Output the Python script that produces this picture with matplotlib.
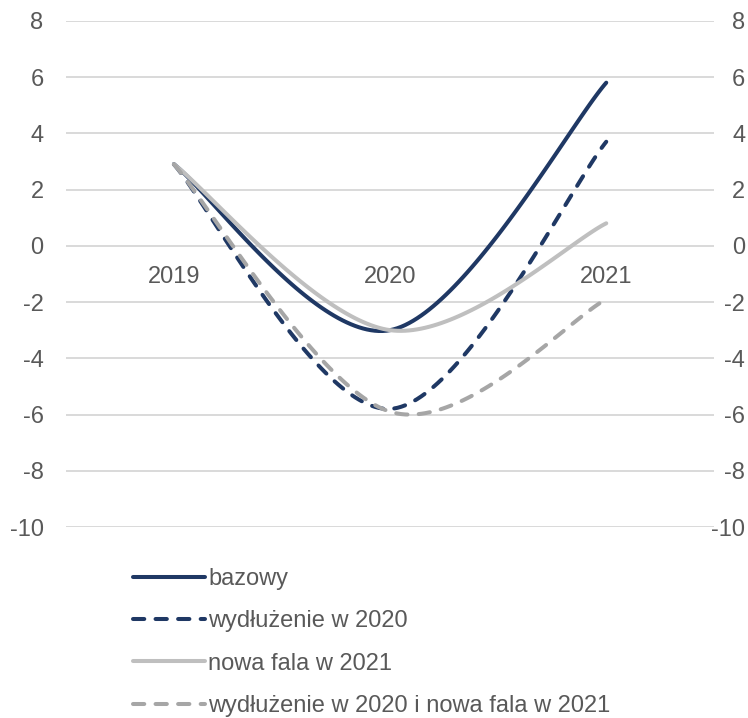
import numpy as np
import matplotlib
matplotlib.use("Agg")
import matplotlib.pyplot as plt

plt.rcParams['font.family'] = ['Liberation Sans', 'DejaVu Sans']

years = ["2019", "2020", "2021"]
bazowy = [2.9, -3.0, 5.8]
wydluzenie_2020 = [2.9, -5.8, 3.7]
nowa_fala_2021 = [2.9, -3.0, 0.8]
wydluzenie_i_nowa_fala = [2.9, -5.9, -1.9]

series_labels = ["bazowy", "wydłużenie w 2020", "nowa fala w 2021",
                 "wydłużenie w 2020 i nowa fala w 2021"]

y_ticks = list(range(-10, 9, 2))

NAVY = "#1f3864"
LIGHT = "#bfbfbf"
MID = "#a6a6a6"
TEXT = "#595959"
FS = 17


def smooth(xs, ys, n=60):
    """Cubic Bezier smoothing through the points (Catmull-Rom style)."""
    P = np.column_stack([np.asarray(xs, float), np.asarray(ys, float)])
    Pe = np.vstack([P[0], P, P[-1]])
    out = []
    t = np.linspace(0, 1, n)[:, None]
    for i in range(len(P) - 1):
        p0, p1, p2, p3 = Pe[i], Pe[i + 1], Pe[i + 2], Pe[i + 3]
        c1 = p1 + (p2 - p0) / 6.0
        c2 = p2 - (p3 - p1) / 6.0
        seg = ((1 - t) ** 3) * p1 + 3 * ((1 - t) ** 2) * t * c1 \
            + 3 * (1 - t) * t ** 2 * c2 + t ** 3 * p2
        out.append(seg if i == 0 else seg[1:])
    out = np.vstack(out)
    return out[:, 0], out[:, 1]


fig = plt.figure(figsize=(7.48, 7.18), dpi=100)
ax = fig.add_axes([0.088, 0.266, 0.867, 0.705])

x = np.arange(len(years))
dash = (0, (2.8, 2.8))
styles = [
    (bazowy, NAVY, "-"),
    (wydluzenie_2020, NAVY, dash),
    (nowa_fala_2021, LIGHT, "-"),
    (wydluzenie_i_nowa_fala, MID, dash),
]
handles = []
for (vals, col, ls), lab in zip(styles, series_labels):
    sx, sy = smooth(x, vals)
    h, = ax.plot(sx, sy, color=col, lw=2.9, ls=ls, label=lab,
                 solid_capstyle='round', dash_capstyle='round', zorder=3)
    handles.append(h)

ax.set_xlim(-0.5, 2.5)
ax.set_ylim(-10, 8)
ax.set_yticks(y_ticks)
ax.set_yticklabels([str(v) for v in y_ticks])
ax.grid(axis='y', color="#d9d9d9", lw=1.4, zorder=0)
ax.set_axisbelow(True)

for s in ['top', 'left', 'right']:
    ax.spines[s].set_visible(False)
ax.spines['bottom'].set_position(('data', 0))
ax.spines['bottom'].set_color('none')

ax.set_xticks(x)
ax.set_xticklabels(years)
ax.tick_params(axis='x', length=0, pad=14.5, labelsize=FS, labelcolor=TEXT)
ax.tick_params(axis='y', length=0, pad=16, labelsize=FS, labelcolor=TEXT)

# mirrored value axis on the right, labels right-aligned at the edge
ax2 = ax.twinx()
ax2.set_ylim(ax.get_ylim())
ax2.set_yticks(y_ticks)
ax2.set_yticklabels([str(v) for v in y_ticks], ha='right')
ax2.tick_params(axis='y', length=0, pad=22.3, labelsize=FS, labelcolor=TEXT)
for s in ax2.spines.values():
    s.set_visible(False)

leg = fig.legend(handles=handles, loc='upper left',
                 bbox_to_anchor=(0.178, 0.209), frameon=False,
                 fontsize=FS, labelcolor=TEXT, handlelength=3.05,
                 handletextpad=0.13, labelspacing=0.86, borderpad=0,
                 borderaxespad=0)

fig.savefig("out.png", dpi=100)
